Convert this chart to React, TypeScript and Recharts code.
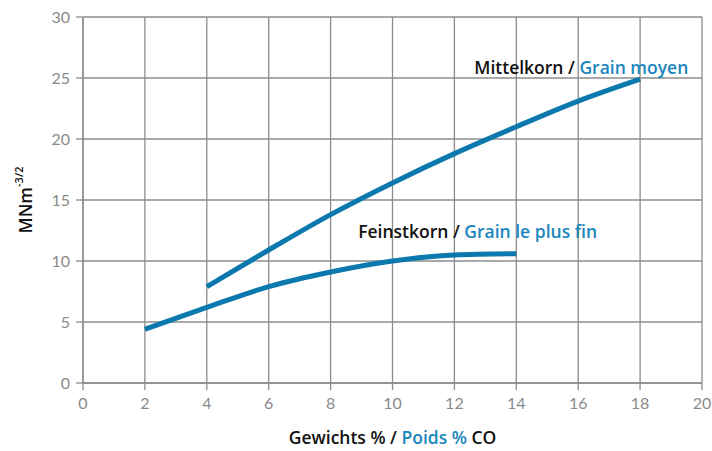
import { LineChart, Line, XAxis, YAxis, CartesianGrid, ReferenceDot } from 'recharts';

// Values
const X_TICKS = [0, 2, 4, 6, 8, 10, 12, 14, 16, 18, 20];
const Y_TICKS = [0, 5, 10, 15, 20, 25, 30];

const MITTEL_X = [4, 6, 8, 10, 12, 14, 16, 18];
const MITTEL_Y = [7.9, 10.9, 13.8, 16.4, 18.8, 21.0, 23.1, 24.9];

const FEIN_X = [2, 4, 6, 8, 10, 12, 14];
const FEIN_Y = [4.4, 6.2, 7.9, 9.1, 10.0, 10.5, 10.6];

const BLUE = '#0b79ad';
const TEXT_BLUE = '#1a86bd';
const GRID = '#8c8c8c';
const FONT = 'Lato, "Open Sans", sans-serif';
const LABEL_FONT = '"Open Sans", Lato, sans-serif';

const mittel = MITTEL_X.map((x, i) => ({ x, y: MITTEL_Y[i] }));
const fein = FEIN_X.map((x, i) => ({ x, y: FEIN_Y[i] }));

function twoTone(black: string, blue: string) {
  return (props: any) => {
    const { viewBox } = props;
    return (
      <text x={viewBox.x} y={viewBox.y} textAnchor="middle" dominantBaseline="central"
        fontFamily={LABEL_FONT} fontSize={17.5} fontWeight={600}>
        <tspan fill="#111">{black}</tspan>
        <tspan fill={TEXT_BLUE}>{blue}</tspan>
      </text>
    );
  };
}

export default function App() {
  return (
    <div style={{ position: 'absolute', left: 0, top: 0, width: 712, height: 451, background: '#fff' }}>
      <LineChart width={712} height={451} margin={{ top: 17, right: 10, bottom: 0, left: 0 }}>
        <CartesianGrid stroke={GRID} strokeWidth={1.3} horizontalValues={Y_TICKS} verticalValues={X_TICKS} />
        <XAxis
          type="number"
          dataKey="x"
          domain={[0, 20]}
          ticks={X_TICKS}
          height={68}
          axisLine={{ stroke: GRID, strokeWidth: 1.3 }}
          tickLine={{ stroke: GRID, strokeWidth: 1.3 }}
          tickSize={7}
          tickMargin={8}
          tick={{ fill: '#8a8a8a', fontSize: 16, fontFamily: FONT }}
          label={(props: any) => {
            const { viewBox } = props;
            return (
              <text x={viewBox.x + viewBox.width / 2} y={437} textAnchor="middle" dominantBaseline="central"
                fontFamily={LABEL_FONT} fontSize={17.5} fontWeight={600}>
                <tspan fill="#111">Gewichts % / </tspan>
                <tspan fill={TEXT_BLUE}>Poids %</tspan>
                <tspan fill="#111"> CO</tspan>
              </text>
            );
          }}
        />
        <YAxis
          type="number"
          domain={[0, 30]}
          ticks={Y_TICKS}
          width={83}
          axisLine={{ stroke: GRID, strokeWidth: 1.3 }}
          tickLine={{ stroke: GRID, strokeWidth: 1.3 }}
          tickSize={7}
          tickMargin={6}
          tick={{ fill: '#8a8a8a', fontSize: 16, fontFamily: FONT }}
          label={(props: any) => {
            const { viewBox } = props;
            const cy = viewBox.y + viewBox.height / 2;
            return (
              <text x={25} y={cy} textAnchor="middle" dominantBaseline="central"
                transform={`rotate(-90 25 ${cy})`} fontFamily={LABEL_FONT} fontSize={17.5} fontWeight={600} fill="#111">
                MNm<tspan fontSize={11} dy={-7}>-3/2</tspan>
              </text>
            );
          }}
        />
        <Line data={mittel} dataKey="y" type="monotone" stroke={BLUE} strokeWidth={5}
          dot={false} activeDot={false} isAnimationActive={false} />
        <Line data={fein} dataKey="y" type="monotone" stroke={BLUE} strokeWidth={5}
          dot={false} activeDot={false} isAnimationActive={false} />
        <ReferenceDot x={16.1} y={25.9} r={0} stroke="none" fill="none"
          label={twoTone('Mittelkorn / ', 'Grain moyen')} />
        <ReferenceDot x={12.75} y={12.5} r={0} stroke="none" fill="none"
          label={twoTone('Feinstkorn / ', 'Grain le plus fin')} />
      </LineChart>
    </div>
  );
}
